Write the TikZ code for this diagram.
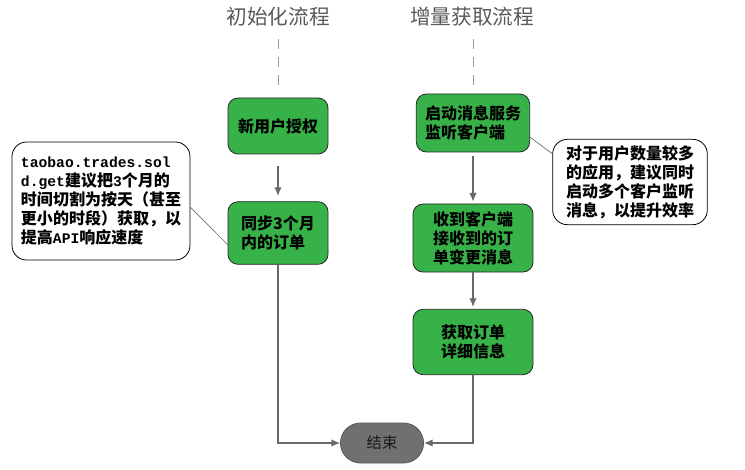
\documentclass[tikz,border=0pt]{standalone}
\usepackage{fontspec}
\setmainfont{Noto Sans CJK SC}
\setmonofont{Liberation Mono}
\usetikzlibrary{arrows.meta,shapes.misc}
\definecolor{boxgreen}{RGB}{55,178,72}
\definecolor{endgray}{RGB}{112,112,112}
\definecolor{linegray}{RGB}{105,105,105}
\definecolor{titlegray}{RGB}{90,90,90}
\tikzset{
  stepbox/.style={draw=black!85, line width=0.6pt, fill=boxgreen, rounded corners=7.5pt,
     align=left, font=\fontsize{12}{14.3}\selectfont\bfseries, inner sep=0pt},
  notebox/.style={draw=black, line width=0.6pt, fill=white, rounded corners=11pt,
     align=left, font=\fontsize{12}{14.3}\selectfont\bfseries, inner sep=0pt},
  endbox/.style={draw=black!65, line width=0.6pt, fill=endgray, rounded rectangle,
     font=\fontsize{11.5}{14}\selectfont, text=black!90, minimum width=69pt, minimum height=30pt},
  titletext/.style={font=\fontsize{15.5}{18}\selectfont, text=titlegray},
  flow/.style={draw=linegray, line width=0.8pt, -{Latex[length=6.5pt,width=5.5pt]}},
  guide/.style={draw=gray!80, line width=0.7pt, dash pattern=on 7.5pt off 6pt},
  noteline/.style={draw=linegray, line width=0.5pt}
}
\begin{document}
\begin{tikzpicture}[x=0.75pt,y=-0.75pt]
\useasboundingbox (0,0) rectangle (745,470);
\node[titletext] (t1) at (278,17) {初始化流程};
\node[titletext] (t2) at (472,17) {增量获取流程};

\node[stepbox, minimum width=75pt, minimum height=42pt] (b1) at (278,126) {新用户授权};
\node[stepbox, minimum width=75pt, minimum height=47pt] (b2) at (278,233) {同步3个月\\内的订单};
\node[stepbox, minimum width=85pt, minimum height=43.5pt] (b3) at (473,123) {启动消息服务\\监听客户端};
\node[stepbox, minimum width=90pt, minimum height=51pt] (b4) at (473,238) {收到客户端\\接收到的订\\单变更消息};
\node[stepbox, minimum width=90pt, minimum height=49pt] (b5) at (473,342) {获取订单\\详细信息};
\node[endbox] (e) at (382,443) {结束};

\node[notebox, minimum width=133.5pt, minimum height=88.5pt] (n1) at (101,201)
 {{\ttfamily\fontsize{11}{14.3}\selectfont taobao.trades.sol}\\{\ttfamily\fontsize{11}{14.3}\selectfont d.get}建议把{\ttfamily\fontsize{11}{14.3}\selectfont 3}个月的\\时间切割为按天（甚至\\更小的时段）获取，以\\提高{\ttfamily\fontsize{11}{14.3}\selectfont API}响应速度};
\node[notebox, minimum width=116pt, minimum height=64pt] (n2) at (630,182)
 {对于用户数量较多\\的应用，建议同时\\启动多个客户监听\\消息，以提升效率};

\draw[guide, shorten <=6pt, shorten >=9pt] (t1) -- (b1);
\draw[guide, shorten <=6pt, shorten >=4.5pt] (t2.south -| b3.north) -- (b3);

\draw[flow, shorten <=9pt, shorten >=4pt] (b1) -- (b2);
\draw[flow, shorten <=3pt, shorten >=1.5pt] (b3) -- (b4);
\draw[flow, shorten >=1.5pt] (b4) -- (b5);
\draw[flow] (b2.south) |- (e.west);
\draw[flow] (b5.south) |- (e.east);

\draw[noteline] (n1.-4) -- (b2.193);
\draw[noteline] (b3.-14) -- (n2.160);
\end{tikzpicture}
\end{document}
